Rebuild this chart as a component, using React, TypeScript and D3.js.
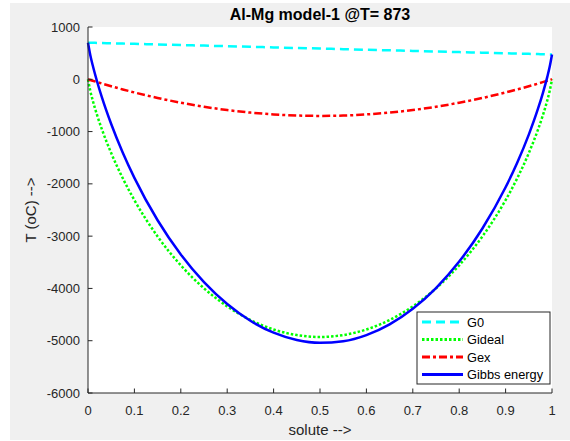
import React from "react";
import * as d3 from "d3";

const xs = [0, 0.005, 0.01, 0.02, 0.03, 0.05, 0.075, 0.1, 0.15, 0.2, 0.25, 0.3, 0.35, 0.4, 0.45, 0.5, 0.55, 0.6, 0.65, 0.7, 0.75, 0.8, 0.85, 0.9, 0.925, 0.95, 0.97, 0.98, 0.99, 0.995, 1];
const g0 = [700, 698.9, 697.8, 695.5, 693.3, 688.8, 683.1, 677.5, 666.3, 655, 643.8, 632.5, 621.3, 610, 598.8, 587.5, 576.3, 565, 553.8, 542.5, 531.3, 520, 508.8, 497.5, 491.9, 486.3, 481.8, 479.5, 477.3, 476.1, 475];
const gideal = [0, -223.8, -398.2, -697.1, -958.0, -1411.4, -1894.0, -2311.3, -3005.5, -3557.9, -3998.2, -4343.2, -4603.3, -4785.1, -4892.7, -4928.3, -4892.7, -4785.1, -4603.3, -4343.2, -3998.2, -3557.9, -3005.5, -2311.3, -1894.0, -1411.4, -958.0, -697.1, -398.2, -223.8, 0];
const gex = [0, -13.9, -27.7, -54.9, -81.5, -133, -194.3, -252, -357, -448, -525, -588, -637, -672, -693, -700, -693, -672, -637, -588, -525, -448, -357, -252, -194.3, -133, -81.5, -54.9, -27.7, -13.9, 0];
const gibbs = [700, 461.2, 271.9, -56.5, -346.3, -855.7, -1405.2, -1885.8, -2696.3, -3350.9, -3879.5, -4298.7, -4619.1, -4847.1, -4987.0, -5040.8, -5009.5, -4892.1, -4686.6, -4388.7, -3992.0, -3485.9, -2853.8, -2065.8, -1596.4, -1058.2, -557.8, -272.5, 51.4, 238.4, 475];

const xTicks = [0, 0.1, 0.2, 0.3, 0.4, 0.5, 0.6, 0.7, 0.8, 0.9, 1];
const yTicks = [1000, 0, -1000, -2000, -3000, -4000, -5000, -6000];
const seriesNames = ["G0", "Gideal", "Gex", "Gibbs energy"];

const W = 570, H = 441;
const L = 88, R = 552, T = 27, B = 393;
const axisColor = "#262626";
const font = "'Liberation Sans', Arial, sans-serif";

export default function App() {
  const x = d3.scaleLinear().domain([0, 1]).range([L, R]);
  const y = d3.scaleLinear().domain([-6000, 1000]).range([B, T]);
  const mk = (vals: number[]) =>
    d3.line<number>().x((_, i) => x(xs[i])).y((v) => y(v)).curve(d3.curveMonotoneX)(vals) || "";

  const series = [
    { name: seriesNames[0], vals: g0, color: "#00ffff", dash: "9,5", w: 2.5 },
    { name: seriesNames[1], vals: gideal, color: "#00ff00", dash: "2.5,2", w: 2.5 },
    { name: seriesNames[2], vals: gex, color: "#ff0000", dash: "8,3,3,3", w: 2.5 },
    { name: seriesNames[3], vals: gibbs, color: "#0000ff", dash: "", w: 2.5 },
  ];

  const lgX = 417, lgY = 312, lgW = 133, lgH = 72;

  return (
    <svg width={W} height={H} style={{ position: "absolute", left: 0, top: 0 }} fontFamily={font}>
      <rect x={0} y={0} width={W} height={H} fill="#ffffff" />
      <rect x={10} y={3} width={W - 10} height={437} fill="#f0f0f0" />
      <rect x={L} y={T} width={R - L} height={B - T} fill="#ffffff" />
      <defs>
        <clipPath id="clip">
          <rect x={L - 2} y={T - 2} width={R - L + 4} height={B - T + 4} />
        </clipPath>
      </defs>
      <g clipPath="url(#clip)">
        {series.map((s) => (
          <path key={s.name} d={mk(s.vals)} fill="none" stroke={s.color} strokeWidth={s.w} strokeDasharray={s.dash || undefined} />
        ))}
      </g>
      <line x1={L} y1={T} x2={L} y2={B} stroke={axisColor} strokeWidth={1} />
      <line x1={L} y1={B} x2={R} y2={B} stroke={axisColor} strokeWidth={1} />
      {xTicks.map((t) => (
        <g key={"x" + t}>
          <line x1={x(t)} x2={x(t)} y1={B} y2={B - 4.5} stroke={axisColor} />
          <text x={x(t)} y={414.5} textAnchor="middle" fontSize={13} fill={axisColor}>{String(t)}</text>
        </g>
      ))}
      {yTicks.map((t) => (
        <g key={"y" + t}>
          <line x1={L} x2={L + 4.5} y1={y(t)} y2={y(t)} stroke={axisColor} />
          <text x={80} y={y(t) + 4.5} textAnchor="end" fontSize={13} fill={axisColor}>{String(t)}</text>
        </g>
      ))}
      <text x={(L + R) / 2} y={20} textAnchor="middle" fontSize={16} fontWeight="bold" fill="#000">Al-Mg model-1 @T= 873</text>
      <text x={(L + R) / 2} y={435} textAnchor="middle" fontSize={15} fill={axisColor}>solute --&gt;</text>
      <text transform={`translate(36,${(T + B) / 2}) rotate(-90)`} textAnchor="middle" fontSize={15} fill={axisColor}>T (oC) --&gt;</text>
      <rect x={lgX} y={lgY} width={lgW} height={lgH} fill="#ffffff" stroke={axisColor} strokeWidth={1} />
      {series.map((s, i) => {
        const cy = lgY + 10 + i * 17.5;
        return (
          <g key={"lg" + s.name}>
            <line x1={lgX + 5} x2={lgX + 46} y1={cy} y2={cy} stroke={s.color} strokeWidth={3} strokeDasharray={s.dash || undefined} />
            <text x={lgX + 50} y={cy + 4.5} fontSize={12.8} fill="#000">{s.name}</text>
          </g>
        );
      })}
    </svg>
  );
}
